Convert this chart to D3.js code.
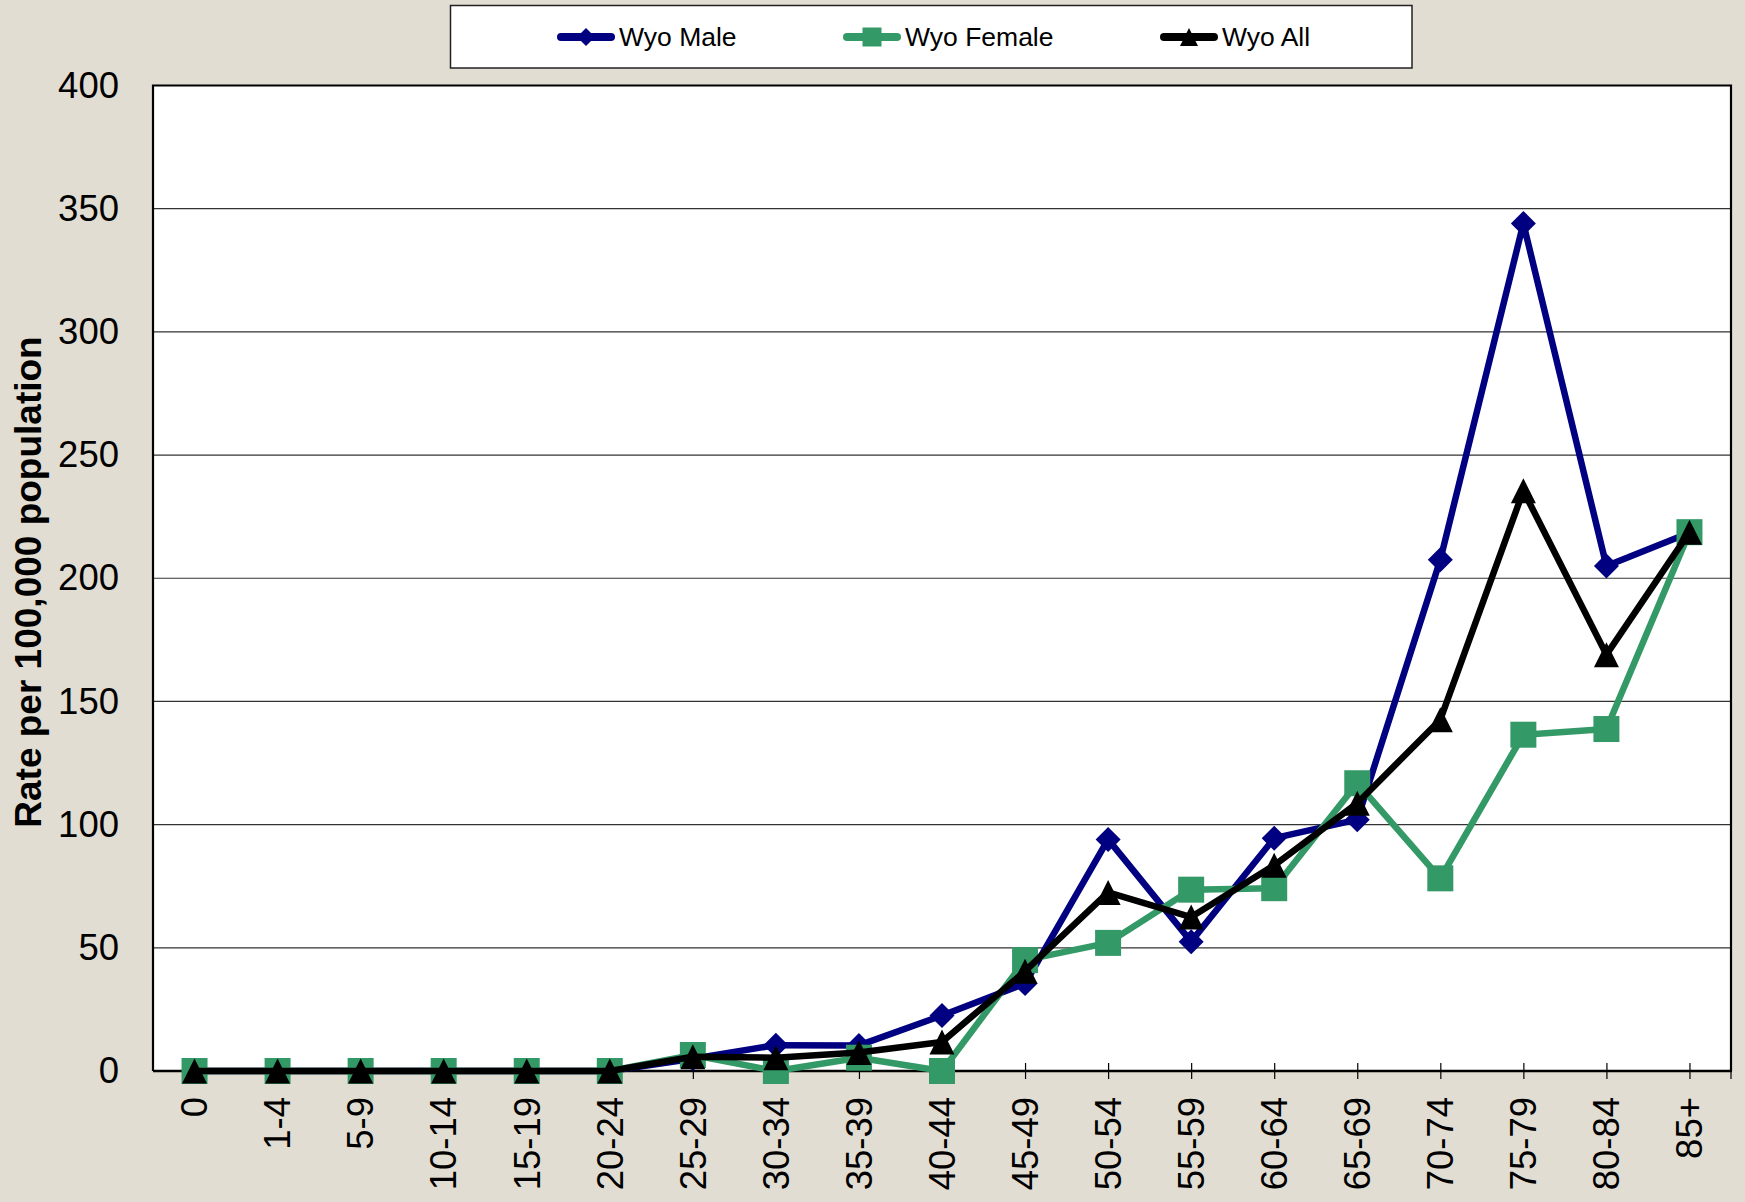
<!DOCTYPE html>
<html>
<head>
<meta charset="utf-8">
<script src="https://cdn.jsdelivr.net/npm/d3@7"></script>
<style>
  html, body { margin: 0; padding: 0; background: #e2ddd2; }
  svg { display: block; font-family: "Liberation Sans", Arial, sans-serif; }
</style>
</head>
<body>
<div id="chart"></div>
<script>
// Age groups and rates per 100,000 population
const ageGroups = ["0", "1-4", "5-9", "10-14", "15-19", "20-24", "25-29", "30-34", "35-39",
  "40-44", "45-49", "50-54", "55-59", "60-64", "65-69", "70-74", "75-79", "80-84", "85+"];
const maleRates = [0, 0, 0, 0, 0, 0, 5, 10.5, 10.4, 22.5, 35.5, 94, 52.5, 94.5, 102, 207.5, 344, 205, 218.5];
const femaleRates = [0, 0, 0, 0, 0, 0, 6.5, 0, 5.4, 0, 45, 52, 73.6, 74.2, 116.8, 78.2, 136.5, 138.8, 218.7];
const allRates = [0, 0, 0, 0, 0, 0, 5.8, 5.4, 7.5, 11.8, 40.5, 72.5, 62.5, 83.5, 108.7, 142.6, 235.5, 169, 218.7];
const yTicks = [0, 50, 100, 150, 200, 250, 300, 350, 400];
const seriesNames = ["Wyo Male", "Wyo Female", "Wyo All"];

const width = 1745, height = 1202;
const plot = { left: 153, right: 1731, top: 85.5, bottom: 1071 };

const series = [
  { name: seriesNames[0], values: maleRates, color: "#000080", marker: "diamond" },
  { name: seriesNames[1], values: femaleRates, color: "#339966", marker: "square" },
  { name: seriesNames[2], values: allRates, color: "#000000", marker: "triangle" },
];

const svg = d3.select("#chart").append("svg")
  .attr("width", width)
  .attr("height", height)
  .style("background", "#e2ddd2");

const x = d3.scalePoint().domain(ageGroups).range([plot.left, plot.right]).padding(0.5);
const y = d3.scaleLinear().domain([0, 400]).range([plot.bottom, plot.top]);

// marker shapes, centred on the point
function markerPath(kind, s) {
  if (kind === "diamond") return `M0,${-s}L${s},0L0,${s}L${-s},0Z`;
  if (kind === "square") return `M${-s},${-s}H${s}V${s}H${-s}Z`;
  return `M0,${-s}L${s},${s}L${-s},${s}Z`;
}
const markerSize = { diamond: 12.5, square: 13, triangle: 12.5 };

// plot area
svg.append("rect")
  .attr("x", plot.left).attr("y", plot.top)
  .attr("width", plot.right - plot.left).attr("height", plot.bottom - plot.top)
  .attr("fill", "#fff");

// horizontal gridlines
svg.append("g")
  .selectAll("line")
  .data(yTicks.filter(d => d > 0 && d < 400))
  .enter().append("line")
  .attr("x1", plot.left).attr("x2", plot.right)
  .attr("y1", d => y(d)).attr("y2", d => y(d))
  .attr("stroke", "#333").attr("stroke-width", 1.2);

// plot border
svg.append("path")
  .attr("d", `M${plot.left},${plot.bottom}V${plot.top}H${plot.right}V${plot.bottom}`)
  .attr("fill", "none").attr("stroke", "#000").attr("stroke-width", 2.2);

// y axis labels
const yAxis = svg.append("g")
  .attr("transform", `translate(${plot.left},0)`)
  .call(d3.axisLeft(y).tickValues(yTicks).tickSize(0).tickPadding(34));
yAxis.select(".domain").remove();
yAxis.selectAll("text")
  .style("font-size", "36.5px")
  .style("font-family", "'Liberation Sans', Arial, sans-serif")
  .attr("fill", "#000");

// x axis ticks cross the axis line
const xAxis = svg.append("g")
  .attr("transform", `translate(0,${plot.bottom - 8})`)
  .call(d3.axisBottom(x).tickSize(16).tickSizeOuter(0).tickFormat(""));
xAxis.select(".domain").remove();
xAxis.selectAll("line").attr("stroke", "#000").attr("stroke-width", 1.2);

svg.append("line")
  .attr("x1", plot.right).attr("x2", plot.right)
  .attr("y1", plot.bottom).attr("y2", plot.bottom + 8)
  .attr("stroke", "#000").attr("stroke-width", 1.2);

svg.append("line")
  .attr("x1", plot.left).attr("x2", plot.right + 1)
  .attr("y1", plot.bottom).attr("y2", plot.bottom)
  .attr("stroke", "#000").attr("stroke-width", 2.6);

// rotated category labels
svg.append("g")
  .selectAll("text")
  .data(ageGroups)
  .enter().append("text")
  .attr("transform", d => `translate(${x(d)},${plot.bottom + 26}) rotate(-90)`)
  .attr("text-anchor", "end")
  .attr("dy", "0.35em")
  .style("font-size", "36.5px")
  .attr("fill", "#000")
  .text(d => d);

// y axis title
svg.append("text")
  .attr("transform", "translate(28,582) rotate(-90)")
  .attr("text-anchor", "middle")
  .attr("dy", "0.35em")
  .style("font-size", "37px")
  .style("font-weight", "bold")
  .attr("fill", "#000")
  .text("Rate per 100,000 population");

// series lines and markers
const line = d3.line()
  .x((d, i) => x(ageGroups[i]))
  .y(d => y(d));

series.forEach(s => {
  const g = svg.append("g");
  g.append("path")
    .datum(s.values)
    .attr("d", line)
    .attr("fill", "none")
    .attr("stroke", s.color)
    .attr("stroke-width", 6.5)
    .attr("stroke-linejoin", "round");
  g.selectAll(".marker")
    .data(s.values)
    .enter().append("path")
    .attr("class", "marker")
    .attr("transform", (d, i) => `translate(${x(ageGroups[i])},${y(d)})`)
    .attr("d", markerPath(s.marker, markerSize[s.marker]))
    .attr("fill", s.color);
});

// legend
const legend = svg.append("g");
legend.append("rect")
  .attr("x", 450.5).attr("y", 5.5)
  .attr("width", 961.5).attr("height", 62.5)
  .attr("fill", "#fff")
  .attr("stroke", "#222").attr("stroke-width", 1.5);

const legendX = [557, 843, 1160];
const legendY = 37;
series.forEach((s, i) => {
  const lx = legendX[i];
  legend.append("line")
    .attr("x1", lx + 4).attr("x2", lx + 54)
    .attr("y1", legendY).attr("y2", legendY)
    .attr("stroke", s.color).attr("stroke-width", 8)
    .attr("stroke-linecap", "round");
  legend.append("path")
    .attr("transform", `translate(${lx + 29},${legendY})`)
    .attr("d", markerPath(s.marker, s.marker === "square" ? 9.5 : 9))
    .attr("fill", s.color);
  legend.append("text")
    .attr("x", lx + 62).attr("y", legendY)
    .attr("dy", "0.35em")
    .style("font-size", "26.5px")
    .attr("fill", "#000")
    .text(s.name);
});
</script>
</body>
</html>
